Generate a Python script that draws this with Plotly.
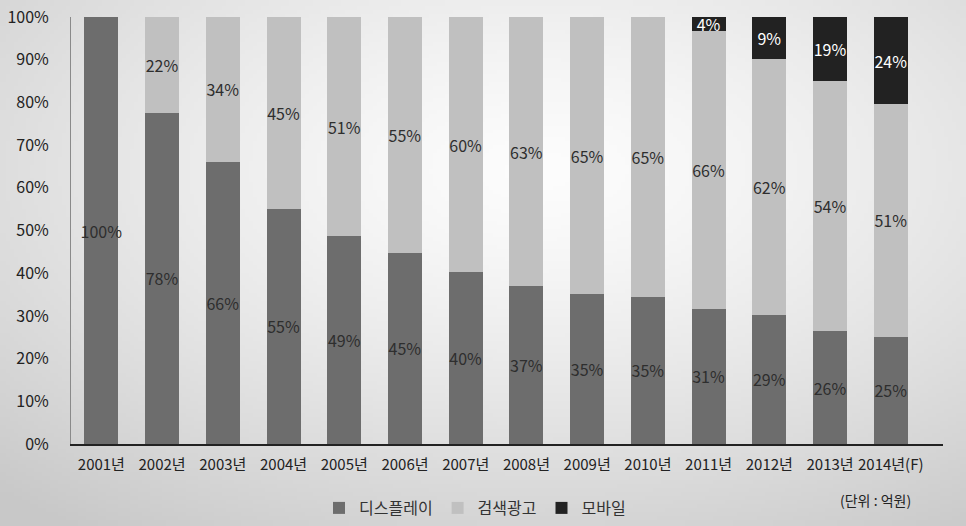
import base64, struct, zlib
import numpy as np
import plotly.graph_objects as go

# ---- data ----
years = ["2001년", "2002년", "2003년", "2004년", "2005년", "2006년", "2007년",
         "2008년", "2009년", "2010년", "2011년", "2012년", "2013년", "2014년(F)"]
display_share = [100, 77.6, 66.1, 55.1, 48.6, 44.8, 40.2, 37.0, 35.1, 34.5, 31.7, 30.3, 26.4, 25.1]
search_share = [0, 22.4, 33.9, 44.9, 51.4, 55.2, 59.8, 63.0, 64.9, 65.5, 65.1, 59.9, 58.6, 54.5]
mobile_share = [0, 0, 0, 0, 0, 0, 0, 0, 0, 0, 3.2, 9.8, 15.0, 20.4]
display_label = [100, 78, 66, 55, 49, 45, 40, 37, 35, 35, 31, 29, 26, 25]
search_label = [None, 22, 34, 45, 51, 55, 60, 63, 65, 65, 66, 62, 54, 51]
mobile_label = [None, None, None, None, None, None, None, None, None, None, 4, 9, 19, 24]
y_ticks = [0, 10, 20, 30, 40, 50, 60, 70, 80, 90, 100]
y_tick_text = ["0%", "10%", "20%", "30%", "40%", "50%", "60%", "70%", "80%", "90%", "100%"]
series_names = ["디스플레이", "검색광고", "모바일"]
unit_text = "(단위 : 억원)"

FONT = "Noto Sans CJK KR"

# ---- background gradient image (decoration) ----
W, H = 966, 526
def png_gray(arr):
    h, w = arr.shape
    raw = b"".join(b"\x00" + bytes(arr[r].astype(np.uint8).tolist()) for r in range(h))
    def chunk(tag, data):
        return (struct.pack(">I", len(data)) + tag + data +
                struct.pack(">I", zlib.crc32(tag + data) & 0xffffffff))
    return (b"\x89PNG\r\n\x1a\n" +
            chunk(b"IHDR", struct.pack(">IIBBBBB", w, h, 8, 0, 0, 0, 0)) +
            chunk(b"IDAT", zlib.compress(raw, 9)) + chunk(b"IEND", b""))

gw, gh = 242, 132
xs = (np.arange(gw) + 0.5) / gw * W
ys = (np.arange(gh) + 0.5) / gh * H
X, Y = np.meshgrid(xs, ys)
d = np.sqrt(((X - 540) / 483.0) ** 2 + ((Y - 170) / 263.0) ** 2)
g = np.clip(253 - 27 * d ** 1.3, 200, 255)
img_uri = "data:image/png;base64," + base64.b64encode(png_gray(g)).decode()

ML, MR, MT, MB = 71, 23, 17, 82
PW, PH = W - ML - MR, H - MT - MB

def fmt(vals):
    return ["" if v is None else f"{v}%" for v in vals]

fig = go.Figure()
fig.add_trace(go.Bar(x=years, y=display_share, name=series_names[0],
                     marker=dict(color="#6d6d6d", line=dict(width=0)),
                     text=fmt(display_label), textposition="inside",
                     insidetextanchor="middle", textangle=0,
                     textfont=dict(color="#2e2e2e", size=16, family=FONT)))
fig.add_trace(go.Bar(x=years, y=search_share, name=series_names[1],
                     marker=dict(color="#c0c0c0", line=dict(width=0)),
                     text=fmt(search_label), textposition="inside",
                     insidetextanchor="middle", textangle=0,
                     textfont=dict(color="#2e2e2e", size=16, family=FONT)))
fig.add_trace(go.Bar(x=years, y=mobile_share, name=series_names[2],
                     marker=dict(color="#222222", line=dict(width=0)),
                     text=fmt(mobile_label), textposition="inside",
                     insidetextanchor="middle", textangle=0,
                     textfont=dict(color="#ffffff", size=16, family=FONT)))

fig.update_layout(
    width=W, height=H, barmode="stack", bargap=0.44,
    margin=dict(l=ML, r=MR, t=MT, b=MB, pad=0, autoexpand=False),
    paper_bgcolor="#ffffff", plot_bgcolor="rgba(0,0,0,0)",
    font=dict(family=FONT, color="#222222"),
    uniformtext=dict(minsize=16, mode="show"),
    showlegend=True,
    legend=dict(orientation="h", xref="container", yref="container",
                x=475 / W, xanchor="center", y=1 - 508 / H, yanchor="middle",
                font=dict(size=16, color="#333333", family=FONT),
                bgcolor="rgba(0,0,0,0)", itemwidth=30, traceorder="normal"),
    xaxis=dict(type="category", range=[-0.5, 13.86], showgrid=False,
               showline=True, linecolor="#222222", linewidth=2,
               ticks="", tickfont=dict(size=15, color="#222222", family=FONT),
               ticklabelstandoff=6, fixedrange=True, automargin=False),
    yaxis=dict(range=[0, 100], tickmode="array", tickvals=y_ticks, ticktext=y_tick_text,
               showgrid=False, zeroline=False, showline=True,
               linecolor="#8a8a8a", linewidth=1, ticks="",
               tickfont=dict(size=16, color="#222222", family=FONT),
               ticklabelstandoff=18, fixedrange=True, automargin=False),
    images=[dict(source=img_uri, xref="paper", yref="paper",
                 x=-ML / PW, y=(PH + MT) / PH, sizex=W / PW, sizey=H / PH,
                 xanchor="left", yanchor="top", sizing="stretch", layer="below")],
    annotations=[dict(text=unit_text, xref="paper", yref="paper",
                      x=(875 - ML) / PW, y=(444 - 500) / PH, showarrow=False,
                      font=dict(size=14, color="#222222", family=FONT),
                      xanchor="center", yanchor="middle")],
)

fig.write_html("out.html")
